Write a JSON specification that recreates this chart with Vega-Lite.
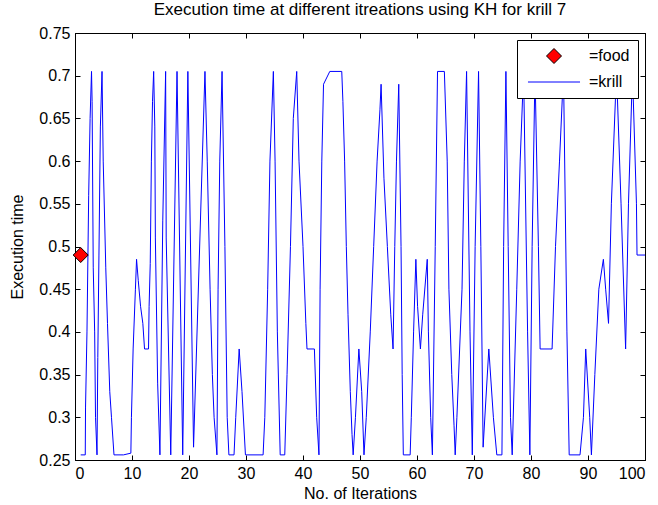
{
  "$schema": "https://vega.github.io/schema/vega-lite/v6.json",
  "width": 570,
  "height": 427,
  "autosize": {"type": "none"},
  "padding": {"left": 75, "top": 33, "right": 13, "bottom": 45},
  "background": "white",
  "config": {
    "font": "Liberation Sans",
    "view": {"stroke": "black", "strokeWidth": 1},
    "axis": {
      "grid": false,
      "domainColor": "black",
      "tickColor": "black",
      "labelColor": "black",
      "titleColor": "black",
      "labelFont": "Liberation Sans",
      "titleFont": "Liberation Sans",
      "labelFontSize": 16,
      "titleFontSize": 16,
      "titleFontWeight": "normal",
      "tickSize": -5,
      "labelPadding": 10
    }
  },
  "title": {
    "text": "Execution time at different itreations using KH for krill 7",
    "font": "Liberation Sans",
    "fontSize": 17,
    "fontWeight": "normal",
    "color": "black",
    "anchor": "middle",
    "offset": 6
  },
  "datasets": {
    "krill": [
      {"iter": 1.0, "time": 0.256}, {"iter": 1.8, "time": 0.256}, {"iter": 1.85, "time": 0.312}, {"iter": 2.1, "time": 0.40}, {"iter": 2.4, "time": 0.56}, {"iter": 2.65, "time": 0.65}, {"iter": 2.9, "time": 0.705},
      {"iter": 3.0, "time": 0.67}, {"iter": 3.2, "time": 0.475}, {"iter": 3.45, "time": 0.40}, {"iter": 3.6, "time": 0.30}, {"iter": 3.86, "time": 0.256},
      {"iter": 4.0, "time": 0.37}, {"iter": 4.2, "time": 0.49}, {"iter": 4.45, "time": 0.64}, {"iter": 4.74, "time": 0.705},
      {"iter": 4.95, "time": 0.60}, {"iter": 5.4, "time": 0.475}, {"iter": 5.7, "time": 0.41}, {"iter": 6.1, "time": 0.33}, {"iter": 6.4, "time": 0.30}, {"iter": 6.84, "time": 0.256},
      {"iter": 8.5, "time": 0.256}, {"iter": 9.8, "time": 0.258}, {"iter": 9.9, "time": 0.30}, {"iter": 10.2, "time": 0.38}, {"iter": 10.6, "time": 0.45}, {"iter": 10.8, "time": 0.485},
      {"iter": 11.1, "time": 0.46}, {"iter": 11.5, "time": 0.43}, {"iter": 11.9, "time": 0.41}, {"iter": 12.2, "time": 0.38}, {"iter": 12.9, "time": 0.38},
      {"iter": 13.0, "time": 0.43}, {"iter": 13.2, "time": 0.48}, {"iter": 13.4, "time": 0.60}, {"iter": 13.6, "time": 0.67}, {"iter": 13.8, "time": 0.705},
      {"iter": 14.0, "time": 0.64}, {"iter": 14.1, "time": 0.51}, {"iter": 14.5, "time": 0.34}, {"iter": 14.9, "time": 0.256},
      {"iter": 15.4, "time": 0.53}, {"iter": 15.9, "time": 0.705}, {"iter": 16.0, "time": 0.51}, {"iter": 16.8, "time": 0.256},
      {"iter": 17.9, "time": 0.705}, {"iter": 18.9, "time": 0.256}, {"iter": 19.8, "time": 0.705}, {"iter": 20.8, "time": 0.265}, {"iter": 22.8, "time": 0.705},
      {"iter": 23.2, "time": 0.60}, {"iter": 23.7, "time": 0.45}, {"iter": 24.1, "time": 0.35}, {"iter": 24.4, "time": 0.30}, {"iter": 24.9, "time": 0.256},
      {"iter": 25.1, "time": 0.45}, {"iter": 25.4, "time": 0.60}, {"iter": 25.8, "time": 0.705},
      {"iter": 26.3, "time": 0.50}, {"iter": 26.7, "time": 0.30}, {"iter": 27.0, "time": 0.256}, {"iter": 27.9, "time": 0.256}, {"iter": 28.2, "time": 0.30}, {"iter": 28.8, "time": 0.38},
      {"iter": 29.3, "time": 0.33}, {"iter": 29.9, "time": 0.256}, {"iter": 33.0, "time": 0.256},
      {"iter": 33.3, "time": 0.30}, {"iter": 33.8, "time": 0.45}, {"iter": 34.2, "time": 0.60}, {"iter": 34.8, "time": 0.705},
      {"iter": 35.1, "time": 0.60}, {"iter": 35.5, "time": 0.40}, {"iter": 36.0, "time": 0.256}, {"iter": 36.8, "time": 0.256},
      {"iter": 37.2, "time": 0.35}, {"iter": 37.8, "time": 0.50}, {"iter": 38.3, "time": 0.65}, {"iter": 38.9, "time": 0.705},
      {"iter": 39.3, "time": 0.60}, {"iter": 40.0, "time": 0.50}, {"iter": 40.5, "time": 0.41}, {"iter": 40.7, "time": 0.38}, {"iter": 42.0, "time": 0.38},
      {"iter": 42.4, "time": 0.30}, {"iter": 42.8, "time": 0.256},
      {"iter": 43.0, "time": 0.45}, {"iter": 43.3, "time": 0.60}, {"iter": 43.6, "time": 0.69}, {"iter": 44.7, "time": 0.705}, {"iter": 46.8, "time": 0.705},
      {"iter": 47.0, "time": 0.67}, {"iter": 47.3, "time": 0.60}, {"iter": 47.6, "time": 0.50}, {"iter": 47.9, "time": 0.42}, {"iter": 48.3, "time": 0.33}, {"iter": 48.6, "time": 0.28}, {"iter": 48.8, "time": 0.256},
      {"iter": 49.2, "time": 0.30}, {"iter": 49.8, "time": 0.38}, {"iter": 50.3, "time": 0.33}, {"iter": 50.7, "time": 0.256},
      {"iter": 51.1, "time": 0.30}, {"iter": 51.8, "time": 0.40}, {"iter": 52.4, "time": 0.50}, {"iter": 53.0, "time": 0.60}, {"iter": 53.5, "time": 0.66}, {"iter": 53.7, "time": 0.69},
      {"iter": 54.2, "time": 0.58}, {"iter": 54.8, "time": 0.50}, {"iter": 55.4, "time": 0.42}, {"iter": 55.8, "time": 0.38},
      {"iter": 56.1, "time": 0.50}, {"iter": 56.4, "time": 0.60}, {"iter": 56.8, "time": 0.69},
      {"iter": 57.2, "time": 0.50}, {"iter": 57.4, "time": 0.35}, {"iter": 57.6, "time": 0.256}, {"iter": 58.8, "time": 0.256},
      {"iter": 59.0, "time": 0.30}, {"iter": 59.4, "time": 0.40}, {"iter": 59.8, "time": 0.485},
      {"iter": 60.1, "time": 0.43}, {"iter": 60.6, "time": 0.38}, {"iter": 61.0, "time": 0.42}, {"iter": 61.8, "time": 0.485},
      {"iter": 62.0, "time": 0.40}, {"iter": 62.4, "time": 0.30}, {"iter": 62.7, "time": 0.256},
      {"iter": 63.2, "time": 0.50}, {"iter": 63.6, "time": 0.705}, {"iter": 64.8, "time": 0.705},
      {"iter": 65.3, "time": 0.60}, {"iter": 65.6, "time": 0.45}, {"iter": 66.1, "time": 0.35}, {"iter": 66.5, "time": 0.29}, {"iter": 66.7, "time": 0.256},
      {"iter": 67.0, "time": 0.30}, {"iter": 67.9, "time": 0.45}, {"iter": 68.3, "time": 0.60}, {"iter": 68.7, "time": 0.705},
      {"iter": 69.3, "time": 0.40}, {"iter": 69.7, "time": 0.256},
      {"iter": 70.2, "time": 0.50}, {"iter": 70.8, "time": 0.705},
      {"iter": 71.2, "time": 0.50}, {"iter": 71.6, "time": 0.265},
      {"iter": 72.6, "time": 0.38}, {"iter": 73.4, "time": 0.30}, {"iter": 74.0, "time": 0.256}, {"iter": 74.9, "time": 0.256},
      {"iter": 75.2, "time": 0.50}, {"iter": 75.6, "time": 0.705},
      {"iter": 76.0, "time": 0.50}, {"iter": 76.4, "time": 0.30}, {"iter": 76.7, "time": 0.256},
      {"iter": 77.5, "time": 0.45}, {"iter": 78.1, "time": 0.60}, {"iter": 78.7, "time": 0.705},
      {"iter": 79.4, "time": 0.40}, {"iter": 79.8, "time": 0.256},
      {"iter": 80.2, "time": 0.50}, {"iter": 80.7, "time": 0.705},
      {"iter": 81.3, "time": 0.50}, {"iter": 81.6, "time": 0.38}, {"iter": 83.7, "time": 0.38},
      {"iter": 84.3, "time": 0.50}, {"iter": 85.0, "time": 0.60}, {"iter": 85.7, "time": 0.705},
      {"iter": 86.3, "time": 0.40}, {"iter": 86.7, "time": 0.256}, {"iter": 88.6, "time": 0.256},
      {"iter": 89.2, "time": 0.30}, {"iter": 89.6, "time": 0.38}, {"iter": 90.3, "time": 0.30}, {"iter": 90.6, "time": 0.256},
      {"iter": 91.2, "time": 0.35}, {"iter": 91.9, "time": 0.45}, {"iter": 92.7, "time": 0.485},
      {"iter": 93.1, "time": 0.45}, {"iter": 93.6, "time": 0.41},
      {"iter": 94.1, "time": 0.55}, {"iter": 95.0, "time": 0.705},
      {"iter": 95.8, "time": 0.55}, {"iter": 96.6, "time": 0.38},
      {"iter": 97.1, "time": 0.55}, {"iter": 97.8, "time": 0.705},
      {"iter": 98.5, "time": 0.55}, {"iter": 98.6, "time": 0.49}, {"iter": 100.0, "time": 0.49}
    ],
    "food": [
      {"iter": 1, "time": 0.49, "name": "=food"}
    ]
  },
  "layer": [
    {
      "data": {"name": "krill"},
      "mark": {"type": "line", "color": "#0000ff", "strokeWidth": 1, "clip": true},
      "encoding": {
        "x": {
          "field": "iter", "type": "quantitative",
          "scale": {"domain": [0, 100], "nice": false, "zero": false},
          "axis": {"values": [0, 10, 20, 30, 40, 50, 60, 70, 80, 90, 100], "title": "No. of Iterations", "titlePadding": 4}
        },
        "y": {
          "field": "time", "type": "quantitative",
          "scale": {"domain": [0.25, 0.75], "nice": false, "zero": false},
          "axis": {"values": [0.25, 0.3, 0.35, 0.4, 0.45, 0.5, 0.55, 0.6, 0.65, 0.7, 0.75], "format": ".2~f", "title": "Execution time", "titlePadding": 13}
        }
      }
    },
    {
      "data": {"name": "food"},
      "mark": {"type": "point", "filled": true, "size": 225, "strokeWidth": 1, "opacity": 1},
      "encoding": {
        "x": {
          "field": "iter", "type": "quantitative",
          "axis": {"orient": "top", "values": [0, 10, 20, 30, 40, 50, 60, 70, 80, 90, 100], "labels": false, "title": null}
        },
        "y": {
          "field": "time", "type": "quantitative",
          "axis": {"orient": "right", "values": [0.25, 0.3, 0.35, 0.4, 0.45, 0.5, 0.55, 0.6, 0.65, 0.7, 0.75], "labels": false, "title": null}
        },
        "fill": {
          "field": "name", "type": "nominal",
          "scale": {"domain": ["=food", "=krill"], "range": ["#ff0000", "#0000ff"]},
          "legend": {
            "title": null,
            "orient": "top-right",
            "offset": 7,
            "padding": 8,
            "strokeColor": "black",
            "fillColor": "white",
            "cornerRadius": 0,
            "labelFont": "Liberation Sans",
            "labelFontSize": 16,
            "labelColor": "black",
            "symbolSize": 225,
            "symbolStrokeWidth": 1,
            "symbolOffset": 21,
            "labelOffset": 27,
            "rowPadding": 8
          }
        },
        "stroke": {
          "field": "name", "type": "nominal",
          "scale": {"domain": ["=food", "=krill"], "range": ["#000000", "#0000ff"]},
          "legend": {"title": null}
        },
        "shape": {
          "field": "name", "type": "nominal",
          "scale": {"domain": ["=food", "=krill"], "range": ["diamond", "M-3.47,0L3.47,0"]},
          "legend": {"title": null}
        }
      }
    }
  ],
  "resolve": {"axis": {"x": "independent", "y": "independent"}}
}
